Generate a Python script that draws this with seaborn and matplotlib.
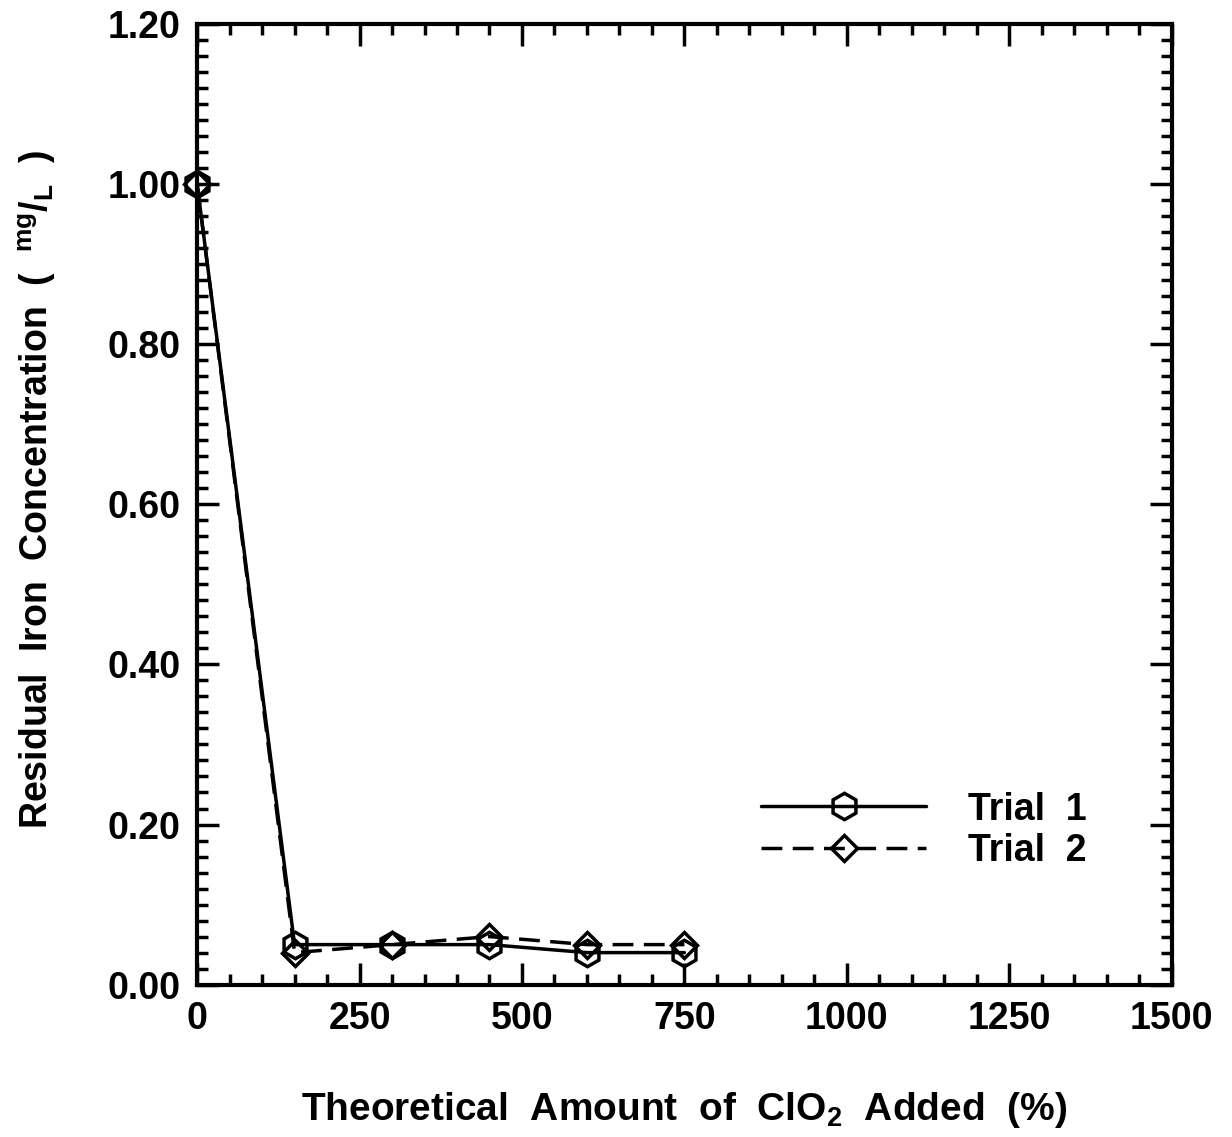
import pandas as pd
import matplotlib
matplotlib.use('Agg')
import matplotlib.pyplot as plt
import seaborn as sns
from matplotlib.ticker import MultipleLocator, FormatStrFormatter

# data
clo2_added = [0, 150, 300, 450, 600, 750]
trial1 = [1.00, 0.05, 0.05, 0.05, 0.04, 0.04]
trial2 = [1.00, 0.04, 0.05, 0.06, 0.05, 0.05]

df = pd.DataFrame({'Added': clo2_added, 'Trial1': trial1, 'Trial2': trial2})

sns.set_style('ticks')
plt.rcParams['font.family'] = ['Liberation Sans', 'DejaVu Sans']
plt.rcParams['font.weight'] = 'bold'
plt.rcParams['text.color'] = 'black'
plt.rcParams['axes.labelcolor'] = 'black'
plt.rcParams['xtick.color'] = 'black'
plt.rcParams['ytick.color'] = 'black'
plt.rcParams['axes.edgecolor'] = 'black'
plt.rcParams['mathtext.fontset'] = 'custom'
plt.rcParams['mathtext.rm'] = 'Liberation Sans:bold'
plt.rcParams['mathtext.bf'] = 'Liberation Sans:bold'
plt.rcParams['mathtext.it'] = 'Liberation Sans:bold'

fig = plt.figure(figsize=(12.32, 11.37), dpi=100)
ax = fig.add_axes([0.160, 0.134, 0.791, 0.845])

sns.lineplot(data=df, x='Added', y='Trial1', ax=ax, color='black', linewidth=2.5,
             marker='h', markersize=19, markerfacecolor='none', markeredgecolor='black',
             markeredgewidth=2.5, label='Trial  1', clip_on=False)
sns.lineplot(data=df, x='Added', y='Trial2', ax=ax, color='black', linewidth=2.5,
             linestyle=(0, (6, 3)), marker='D', markersize=13, markerfacecolor='none',
             markeredgecolor='black', markeredgewidth=2.5, label='Trial  2', clip_on=False)

ax.set_xlim(0, 1500)
ax.set_ylim(0, 1.2)
ax.xaxis.set_major_locator(MultipleLocator(250))
ax.xaxis.set_minor_locator(MultipleLocator(50))
ax.yaxis.set_major_locator(MultipleLocator(0.2))
ax.yaxis.set_minor_locator(MultipleLocator(0.02))
ax.yaxis.set_major_formatter(FormatStrFormatter('%.2f'))
ax.tick_params(which='both', direction='in', top=True, right=True, width=2.5)
ax.tick_params(which='major', length=16, labelsize=27, pad=12)
ax.tick_params(which='minor', length=8)
for lab in ax.get_xticklabels() + ax.get_yticklabels():
    lab.set_fontweight('bold')
for s in ax.spines.values():
    s.set_linewidth(3)

ax.set_xlabel(r'Theoretical  Amount  of  ClO$_{2}$  Added  (%)', fontsize=28,
              fontweight='bold', labelpad=38)
ax.set_ylabel(r'Residual  Iron  Concentration  (  $^{mg}/_{L}$  )', fontsize=27,
              fontweight='bold')
ax.yaxis.set_label_coords(-0.143, 0.515)

leg = ax.legend(loc='lower right', bbox_to_anchor=(0.947, 0.085), frameon=False,
                fontsize=27, handlelength=4.4, handletextpad=1.1, labelspacing=0.15)
for t in leg.get_texts():
    t.set_fontweight('bold')

plt.savefig('out.png', dpi=100)
